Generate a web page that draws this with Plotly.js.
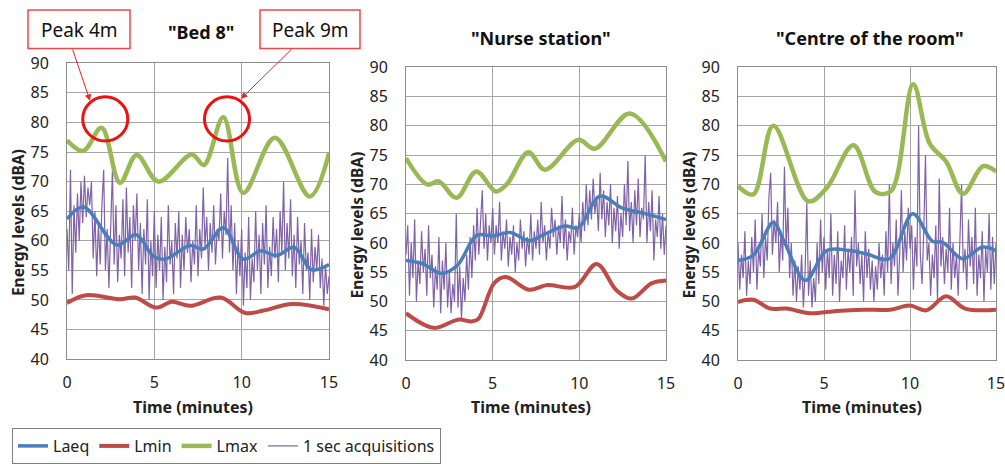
<!DOCTYPE html>
<html>
<head>
<meta charset="utf-8">
<script src="https://cdn.plot.ly/plotly-3.0.1.min.js"></script>
<style>html,body{margin:0;padding:0;background:#fff;}#chart{width:1005px;height:464px;}</style>
</head>
<body>
<div id="chart"></div>
<script>
// ---------- Panel titles / series names ----------
const panelTitles = ['"Bed 8"', '"Nurse station"', '"Centre of the room"'];
const seriesNames = ['Laeq', 'Lmin', 'Lmax', '1 sec acquisitions'];
const xTicks = [0, 5, 10, 15];
const yTicks = [40, 45, 50, 55, 60, 65, 70, 75, 80, 85, 90];

// ---------- Bed 8 ----------
const bedLmaxX = [0, 0.93, 1.98, 3.03, 3.99, 5.23, 7.14, 7.84, 8.95, 10.09, 11.9, 13.9, 15];
const bedLmaxY = [77, 75.2, 79.1, 69.8, 74.5, 70.0, 74.6, 72.8, 80.9, 68.1, 77.4, 67.5, 74.8];
const bedLaeqX = [0, 0.95, 2.85, 3.97, 4.94, 5.6, 7.07, 7.8, 8.95, 10.09, 11.1, 12.0, 13.0, 14.0, 15];
const bedLaeqY = [63.7, 65.7, 59.3, 61.0, 57.4, 56.9, 59.2, 58.6, 62.2, 56.9, 58.3, 57.5, 58.9, 55.1, 56];
const bedLminX = [0, 1.1, 3.03, 3.9, 5.1, 6.0, 7.05, 8.8, 10.2, 11.25, 12.9, 15];
const bedLminY = [49.5, 50.8, 50.1, 50.4, 48.7, 49.7, 49.0, 50.4, 47.8, 48.2, 49.3, 48.4];
const bedSec = [62,55,72,51,66,58,68,60,70,63,71,64,69,66,70,57,65,54,63,56,
  66,72,55,62,52,64,72,56,66,53,61,57,67,54,69,58,64,52,66,60,
  68,55,63,51,62,56,67,50,60,54,65,52,61,55,64,50,59,53,66,56,
  60,51,63,57,65,52,61,55,64,58,62,53,60,56,66,54,62,57,69,59,
  64,55,63,58,66,56,62,60,68,57,65,61,74,58,66,55,63,51,60,54,
  62,49,58,52,64,50,57,53,65,55,61,51,63,56,66,52,59,54,64,57,
  62,53,65,58,70,55,63,57,67,54,61,52,64,56,60,51,63,55,58,50,
  62,53,59,55,61,52,57,49,56,51,54];

// ---------- Nurse station ----------
const nurLmaxX = [0, 1.22, 1.9, 2.92, 4.05, 5.18, 5.81, 7.06, 8.02, 9.94, 10.9, 12.92, 15];
const nurLmaxY = [74.5, 70, 70.5, 67.7, 72.2, 68.8, 70, 75.5, 72.5, 77.6, 76.1, 82.1, 73.9];
const nurLaeqX = [0, 1.0, 2.05, 2.97, 4.08, 5.04, 6.0, 7.1, 8.0, 9.17, 9.94, 11.19, 12.44, 13.79, 15];
const nurLaeqY = [57, 56.4, 54.8, 56.2, 61.3, 61.2, 61.8, 60.4, 61.5, 62.9, 62.6, 68, 66, 65, 64];
const nurLminX = [0, 1.6, 3.0, 3.79, 4.17, 5.1, 5.75, 7.1, 8.12, 9.75, 11.0, 12.15, 13.02, 14.16, 15];
const nurLminY = [48, 45.5, 46.9, 46.6, 47.0, 53.2, 54.2, 52.0, 52.8, 52.5, 56.4, 51.9, 50.5, 53.1, 53.6];
const nurSec = [58,63,51,60,54,64,50,57,53,62,55,59,51,63,54,58,49,56,52,61,
  48,57,52,60,49,55,48,53,50,65,49,56,47,54,50,58,52,61,54,63,
  57,66,58,64,69,59,65,57,63,60,66,58,63,60,67,57,62,59,64,56,
  61,58,63,55,60,57,64,59,62,56,61,58,65,57,62,59,64,58,67,60,
  63,57,62,59,66,61,64,58,63,60,68,59,64,57,62,60,66,58,63,61,
  65,60,67,62,70,63,69,64,71,65,68,62,72,64,69,61,67,63,70,60,
  66,62,68,59,65,61,70,63,74,62,67,60,69,63,71,61,66,64,75,60,
  67,62,69,57,64,61,68,59,65,58,63];

// ---------- Centre of the room ----------
const cenLmaxX = [0, 0.89, 2.05, 4.09, 5.16, 6.71, 8.0, 8.9, 10.18, 11.14, 12.1, 13.08, 14.24, 15];
const cenLmaxY = [69.7, 68.3, 80, 67.1, 69.4, 76.7, 68.7, 68.9, 87.1, 77.0, 73.9, 68.4, 73.1, 72.2];
const cenLaeqX = [0, 0.89, 2.05, 2.66, 3.92, 5.16, 6.5, 7.5, 8.8, 10.16, 11.3, 11.9, 13.06, 14.22, 15];
const cenLaeqY = [57, 57.9, 63.5, 60.4, 53.6, 58.7, 58.7, 58.1, 57.3, 65, 60.3, 60.1, 57.3, 59.3, 58.7];
const cenLminX = [0, 0.89, 1.86, 2.83, 4.19, 5.74, 7.29, 8.84, 9.98, 10.95, 12.1, 13.2, 15];
const cenLminY = [49.9, 50.3, 48.8, 48.8, 48.0, 48.4, 48.6, 48.6, 49.3, 48.5, 50.9, 48.8, 48.6];
const cenSec = [60,52,58,54,62,51,57,53,61,55,64,52,59,56,65,54,61,57,68,72,
  58,64,60,67,55,62,57,73,59,66,54,60,51,57,50,56,52,58,49,55,
  67,51,57,49,54,50,60,53,64,55,61,52,59,54,65,51,58,53,62,50,
  57,54,63,52,59,55,61,51,69,56,60,53,58,50,62,54,59,52,57,50,
  56,52,60,54,58,51,62,55,70,53,60,56,64,51,58,69,55,62,57,66,
  59,63,52,61,56,80,58,53,62,75,57,60,51,58,54,63,50,71,56,61,
  53,59,55,66,52,60,54,58,51,62,70,55,59,52,64,56,61,53,66,51,
  58,54,62,50,59,55,65,52,61,53,60];

// ---------- Styling ----------
const FONT = 'Noto Sans, DejaVu Sans, sans-serif';
const C_LAEQ = '#4a7ebb', C_LMIN = '#be4b48', C_LMAX = '#98b954', C_SEC = '#7f62a8';
const W = 1005, H = 464;
const px = v => v / W;
const py = v => (H - v) / H;

const panels = [
  {sec: bedSec, laeq: [bedLaeqX, bedLaeqY], lmin: [bedLminX, bedLminY], lmax: [bedLmaxX, bedLmaxY], x0: 67, x1: 329, y0: 64, y1: 363},
  {sec: nurSec, laeq: [nurLaeqX, nurLaeqY], lmin: [nurLminX, nurLminY], lmax: [nurLmaxX, nurLmaxY], x0: 406, x1: 666, y0: 68, y1: 364},
  {sec: cenSec, laeq: [cenLaeqX, cenLaeqY], lmin: [cenLminX, cenLminY], lmax: [cenLmaxX, cenLmaxY], x0: 738, x1: 996, y0: 68, y1: 364}
];

const traces = [];
const layout = {
  width: W, height: H,
  margin: {l: 0, r: 0, t: 0, b: 0},
  paper_bgcolor: '#fff', plot_bgcolor: '#fff',
  font: {family: FONT, color: '#222'},
  showlegend: true,
  legend: {
    orientation: 'h', x: px(12), y: py(433), xanchor: 'left', yanchor: 'top',
    bordercolor: '#7f7f7f', borderwidth: 1, bgcolor: '#fff',
    font: {family: FONT, size: 16, color: '#222'},
    traceorder: 'normal', itemwidth: 30
  },
  annotations: [], shapes: []
};

panels.forEach((p, i) => {
  const s = i === 0 ? '' : String(i + 1);
  const xa = 'x' + s, ya = 'y' + s;
  const n = p.sec.length;
  const secX = p.sec.map((_, k) => k * 15 / (n - 1));
  traces.push({x: secX, y: p.sec, xaxis: xa, yaxis: ya, type: 'scatter', mode: 'lines',
    line: {color: C_SEC, width: 1.2}, name: seriesNames[3], legendrank: 4, showlegend: i === 0, legendgroup: 'sec'});
  traces.push({x: p.lmin[0], y: p.lmin[1], xaxis: xa, yaxis: ya, type: 'scatter', mode: 'lines',
    line: {color: C_LMIN, width: 4, shape: 'spline', smoothing: 1}, name: seriesNames[1], legendrank: 2, showlegend: i === 0, legendgroup: 'lmin'});
  traces.push({x: p.lmax[0], y: p.lmax[1], xaxis: xa, yaxis: ya, type: 'scatter', mode: 'lines',
    line: {color: C_LMAX, width: 4.5, shape: 'spline', smoothing: 1}, name: seriesNames[2], legendrank: 3, showlegend: i === 0, legendgroup: 'lmax'});
  traces.push({x: p.laeq[0], y: p.laeq[1], xaxis: xa, yaxis: ya, type: 'scatter', mode: 'lines',
    line: {color: C_LAEQ, width: 3.5, shape: 'spline', smoothing: 1}, name: seriesNames[0], legendrank: 1, showlegend: i === 0, legendgroup: 'laeq'});

  const axCommon = {
    showgrid: true, gridcolor: '#a6a6a6', gridwidth: 1,
    showline: true, linecolor: '#8c8c8c', linewidth: 1, mirror: true,
    zeroline: false, ticks: '', fixedrange: true, ticklabeloverflow: 'allow',
    tickfont: {family: FONT, size: 16, color: '#222'}
  };
  layout['xaxis' + s] = Object.assign({}, axCommon, {
    domain: [px(p.x0), px(p.x1)], anchor: ya, range: [0, 15],
    tickvals: xTicks, ticktext: xTicks.map(String), ticklabelstandoff: 9
  });
  layout['yaxis' + s] = Object.assign({}, axCommon, {
    domain: [py(p.y1), py(p.y0)], anchor: xa, range: [40, 90],
    tickvals: yTicks, ticktext: yTicks.map(String), ticklabelstandoff: 14
  });
  const cx = (p.x0 + p.x1) / 2;
  layout.annotations.push({xref: 'paper', yref: 'paper', x: px(cx - 5), y: py(411), text: '<b>Time (minutes)</b>',
    showarrow: false, font: {family: FONT, size: 16, color: '#222'}, xanchor: 'center', yanchor: 'middle'});
  layout.annotations.push({xref: 'paper', yref: 'paper', x: px(p.x0 - 49), y: py((p.y0 + p.y1) / 2 + 12), text: '<b>Energy levels (dBA)</b>',
    textangle: -90, showarrow: false, font: {family: FONT, size: 15.5, color: '#222'}, xanchor: 'center', yanchor: 'middle'});
});

// panel titles
[[201, 32], [541, 38], [870, 38]].forEach((c, i) => {
  layout.annotations.push({xref: 'paper', yref: 'paper', x: px(c[0]), y: py(c[1]), text: '<b>' + panelTitles[i] + '</b>',
    showarrow: false, font: {family: FONT, size: 18, color: '#111'}, xanchor: 'center', yanchor: 'middle'});
});

// Peak call-outs
const peakLabels = ['Peak 4m', 'Peak 9m'];
const peakBoxes = [[28, 130], [260, 360]];
peakBoxes.forEach((b, i) => {
  layout.shapes.push({type: 'rect', xref: 'paper', yref: 'paper', x0: px(b[0]), x1: px(b[1]), y0: py(49), y1: py(10),
    line: {color: '#f04848', width: 1.5}, fillcolor: '#fff', layer: 'above'});
  layout.annotations.push({xref: 'paper', yref: 'paper', x: px((b[0] + b[1]) / 2), y: py(30), text: peakLabels[i],
    showarrow: false, font: {family: FONT, size: 19, color: '#111'}, xanchor: 'center', yanchor: 'middle'});
});
// circles around the peaks (panel 1 data coords)
const peakCentres = [[2.19, 80.6], [9.16, 80.6]];
peakCentres.forEach(c => {
  layout.shapes.push({type: 'circle', xref: 'x', yref: 'y', x0: c[0] - 1.29, x1: c[0] + 1.29, y0: c[1] - 3.73, y1: c[1] + 3.73,
    line: {color: '#ee1111', width: 3}, layer: 'above'});
});
// arrows
layout.annotations.push({xref: 'x', yref: 'y', x: 1.32, y: 83.65, ax: -18, ay: -53, text: '', showarrow: true,
  arrowhead: 2, arrowsize: 1.3, arrowwidth: 1, arrowcolor: '#ee2222', standoff: 0, startstandoff: 0});
layout.annotations.push({xref: 'x', yref: 'y', x: 9.96, y: 84.0, ax: 52, ay: -51, text: '', showarrow: true,
  arrowhead: 2, arrowsize: 1.3, arrowwidth: 1, arrowcolor: '#ee2222', standoff: 0, startstandoff: 0});

Plotly.newPlot('chart', traces, layout, {displayModeBar: false, staticPlot: true});
</script>
</body>
</html>
